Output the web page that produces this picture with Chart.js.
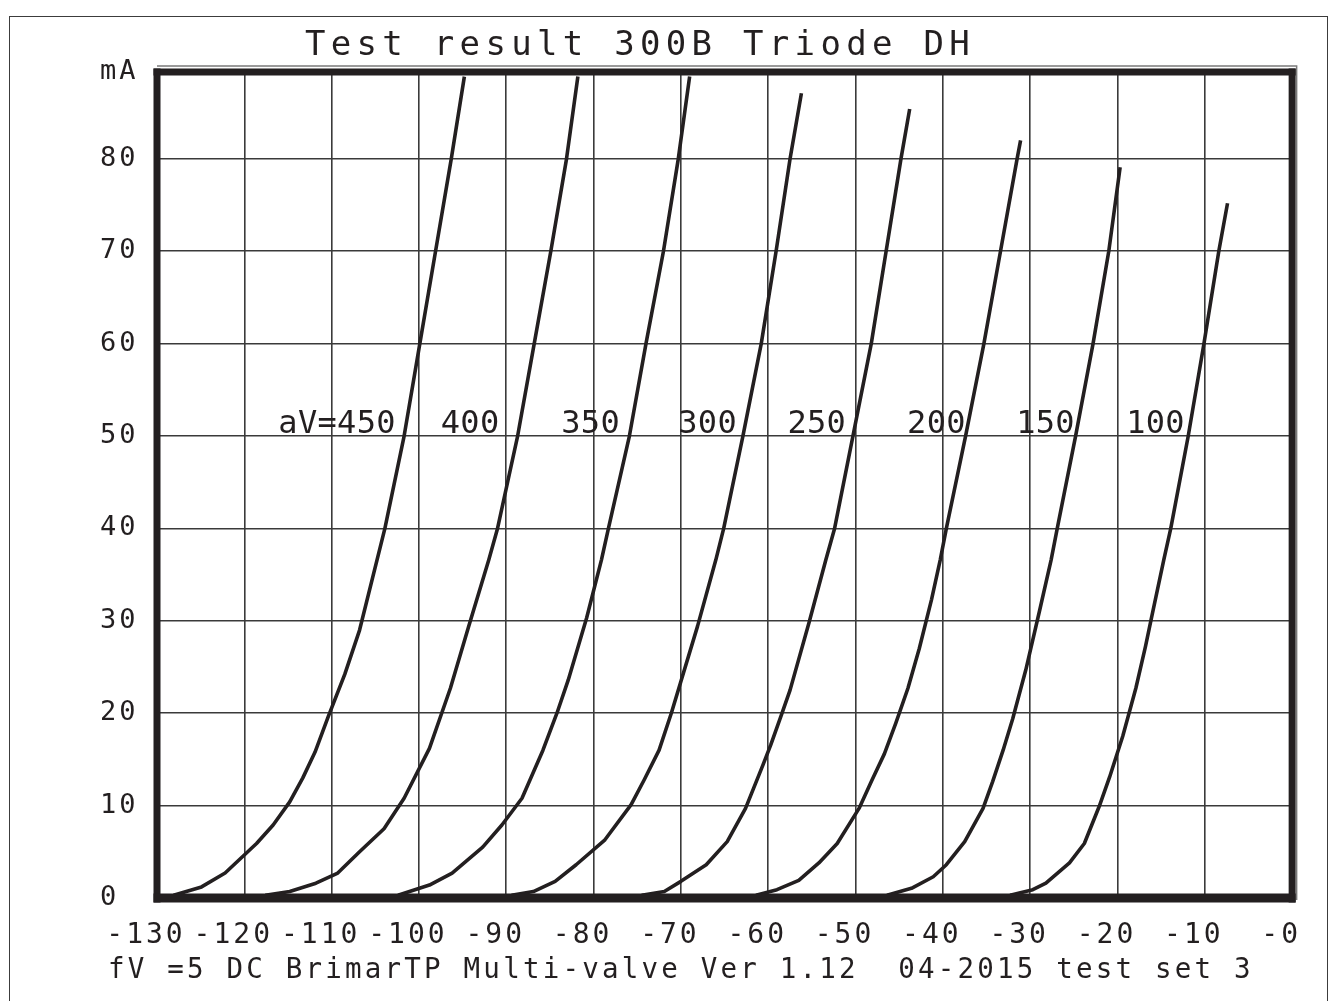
<!DOCTYPE html>
<html><head><meta charset="utf-8">
<script src="https://cdn.jsdelivr.net/npm/chart.js@4/dist/chart.umd.min.js"></script>
<style>
html,body{margin:0;padding:0;background:#fff;overflow:hidden}
#wrap{position:relative;width:1330px;height:1001px}
#frame{position:absolute;left:9px;top:16px;width:1319px;height:1010px;border:1.5px solid #3c3c3c;box-sizing:border-box}
canvas{position:absolute;left:0;top:0}
</style></head>
<body><div id="wrap"><div id="frame"></div><canvas id="c" width="1330" height="1001"></canvas></div>
<script>
// ---- texts ----
const chartTitle = 'Test result 300B Triode DH';
const footerText = 'fV =5 DC BrimarTP Multi-valve Ver 1.12  04-2015 test set 3';
const curveLabels = ['aV=450', '400', '350', '300', '250', '200', '150', '100'];
const curveLabelGridV = [-116.1, -97.5, -83.7, -70.3, -57.8, -44.1, -31.6, -19.0];
const curveLabelMA = 50;

// ---- ticks ----
const xTickValues = [-130, -120, -110, -100, -90, -80, -70, -60, -50, -40, -30, -20, -10, 0];
const xTickLabels = ['-130', '-120', '-110', '-100', '-90', '-80', '-70', '-60', '-50', '-40', '-30', '-20', '-10', '-0'];
const yTickValues = [0, 10, 20, 30, 40, 50, 60, 70, 80, 89.4];
const yTickLabels = ['0', '10', '20', '30', '40', '50', '60', '70', '80', 'mA'];

// ---- series: grid volts (x) and anode mA (y) ----
const grid450 = [-128.1, -124.9, -122.2, -118.6, -116.7, -114.8, -113.3, -111.9, -110.4, -108.5, -106.8, -103.9, -101.7, -99.9, -98.1, -96.3, -94.8];
const ia450   = [0.3, 1.2, 2.7, 5.9, 7.9, 10.4, 13.0, 15.8, 19.6, 24.2, 29.0, 40, 50, 60, 70, 80, 88.9];
const grid400 = [-117.6, -114.8, -111.8, -109.3, -106.8, -104.0, -101.7, -98.8, -96.4, -94.3, -92.0, -91.0, -88.7, -86.8, -84.9, -83.1, -81.8];
const ia400   = [0.3, 0.7, 1.6, 2.7, 5.0, 7.5, 10.8, 16.2, 22.7, 29.4, 36.6, 40, 50, 60, 70, 80, 88.9];
const grid350 = [-102.4, -98.8, -96.2, -92.7, -90.5, -88.2, -85.8, -84.2, -82.9, -80.8, -79.1, -78.3, -75.9, -74.0, -72.0, -70.3, -69.0];
const ia350   = [0.3, 1.4, 2.7, 5.5, 7.9, 10.8, 16.0, 20.0, 23.6, 30.3, 36.6, 40, 50, 60, 70, 80, 88.9];
const grid300 = [-89.4, -86.9, -84.4, -82.0, -78.7, -75.7, -74.2, -72.5, -71.1, -68.1, -66.0, -65.1, -62.9, -60.8, -59.1, -57.5, -56.2];
const ia300   = [0.3, 0.7, 1.8, 3.6, 6.3, 10.1, 12.8, 16.0, 20.0, 29.4, 36.6, 40, 50, 60, 70, 80, 87.1];
const grid250 = [-74.5, -71.9, -70.0, -67.1, -64.7, -62.6, -60.6, -59.7, -58.5, -57.5, -55.3, -53.4, -52.4, -50.3, -48.2, -46.5, -44.8, -43.8];
const ia250   = [0.3, 0.7, 1.8, 3.6, 6.1, 9.7, 14.4, 16.6, 19.8, 22.5, 29.9, 36.6, 40, 50, 60, 70, 80, 85.4];
const grid200 = [-61.4, -59.0, -56.5, -54.2, -52.1, -49.6, -48.1, -46.7, -45.4, -44.0, -42.7, -41.3, -40.3, -39.6, -37.4, -35.3, -33.4, -31.5, -31.1];
const ia200   = [0.3, 0.9, 1.9, 3.8, 5.9, 9.7, 12.8, 15.6, 18.9, 22.7, 27.0, 32.3, 36.6, 40, 50, 60, 70, 80, 82.0];
const grid150 = [-46.4, -43.6, -41.1, -39.6, -37.5, -35.4, -34.3, -33.1, -32.0, -30.5, -28.9, -27.6, -26.9, -24.8, -22.8, -21.0, -19.7];
const ia150   = [0.3, 1.05, 2.3, 3.6, 6.1, 9.7, 12.6, 16.0, 19.4, 24.7, 31.2, 36.6, 40, 50, 60, 70, 79.1];
const grid100 = [-32.3, -29.7, -28.2, -25.5, -23.8, -22.1, -20.9, -19.4, -17.9, -16.8, -16.2, -14.7, -13.9, -11.9, -10.1, -8.4, -7.4];
const ia100   = [0.3, 0.9, 1.6, 3.8, 5.9, 9.9, 13.1, 17.5, 22.7, 27.2, 29.9, 36.6, 40, 50, 60, 70, 75.2];

const seriesNames = ['450', '400', '350', '300', '250', '200', '150', '100'];
const seriesX = [grid450, grid400, grid350, grid300, grid250, grid200, grid150, grid100];
const seriesY = [ia450, ia400, ia350, ia300, ia250, ia200, ia150, ia100];

const INK = '#231f20';
const FONT = '"DejaVu Sans Mono", "Liberation Mono", monospace';

const datasets = seriesNames.map((n, i) => ({
  label: 'aV=' + n,
  data: seriesX[i].map((v, k) => ({x: v, y: seriesY[i][k]})),
  borderColor: INK,
  borderWidth: 3.6,
  pointRadius: 0,
  tension: 0,
  fill: false,
  borderJoinStyle: 'round'
}));

const decor = {
  id: 'decor',
  beforeDraw(chart) { chart.ctx.letterSpacing = '3px'; },
  afterDatasetsDraw(chart) {
    const {ctx, chartArea: a, scales: {x, y}} = chart;
    ctx.save();
    ctx.letterSpacing = '0px';
    // thin offset frame (top + right)
    ctx.strokeStyle = '#7a7a7a';
    ctx.lineWidth = 1.5;
    ctx.beginPath();
    ctx.moveTo(a.left, a.top - 6);
    ctx.lineTo(a.right + 4.5, a.top - 6);
    ctx.lineTo(a.right + 4.5, a.bottom + 2);
    ctx.stroke();
    // thick plot border
    ctx.fillStyle = INK;
    const w = a.right - a.left, h = a.bottom - a.top;
    ctx.fillRect(a.left - 3.5, a.top - 3.5, w + 7, 7);
    ctx.fillRect(a.left - 3.5, a.top - 3.5, 7, h + 8);
    ctx.fillRect(a.right - 3.5, a.top - 3.5, 7, h + 8);
    ctx.fillRect(a.left - 3.5, a.bottom - 4.5, w + 7, 9);
    // curve labels
    ctx.fillStyle = INK;
    ctx.textAlign = 'left';
    ctx.textBaseline = 'alphabetic';
    ctx.font = '32px ' + FONT;
    ctx.letterSpacing = '0.3px';
    curveLabels.forEach((t, i) => {
      ctx.fillText(t, x.getPixelForValue(curveLabelGridV[i]), y.getPixelForValue(curveLabelMA) - 3);
    });
    // title
    ctx.font = '34px ' + FONT;
    ctx.letterSpacing = '5.3px';
    ctx.fillText(chartTitle, 305, 55);
    // footer
    ctx.font = '27.5px ' + FONT;
    ctx.letterSpacing = '3.2px';
    ctx.fillText(footerText, 108, 978);
    ctx.restore();
  },
  afterDraw(chart) { chart.ctx.letterSpacing = '0px'; }
};

new Chart(document.getElementById('c'), {
  type: 'line',
  data: {datasets},
  plugins: [decor],
  options: {
    responsive: false,
    animation: false,
    events: [],
    layout: {padding: {left: 100, top: 72, right: 33, bottom: 0}},
    plugins: {legend: {display: false}, title: {display: false}, tooltip: {enabled: false}},
    scales: {
      x: {
        type: 'linear',
        min: -130, max: 0,
        afterBuildTicks: s => { s.ticks = xTickValues.map(v => ({value: v})); },
        afterFit: s => { s.height = 103; },
        grid: {color: '#3a3a3a', lineWidth: 1.6, drawTicks: false},
        border: {display: false},
        ticks: {
          callback: (v, i) => xTickLabels[i],
          color: INK,
          font: {family: FONT, size: 28},
          padding: 21,
          labelOffset: -11,
          autoSkip: false, maxRotation: 0, minRotation: 0
        }
      },
      y: {
        type: 'linear',
        min: 0, max: 89.4,
        afterBuildTicks: s => { s.ticks = yTickValues.map(v => ({value: v})); },
        afterFit: s => { s.width = 57; },
        grid: {color: '#3a3a3a', lineWidth: 1.6, drawTicks: false},
        border: {display: false},
        ticks: {
          callback: (v, i) => yTickLabels[i],
          color: INK,
          font: {family: FONT, size: 27},
          crossAlign: 'far',
          padding: 0,
          autoSkip: false
        }
      }
    }
  }
});
</script>
</body></html>
